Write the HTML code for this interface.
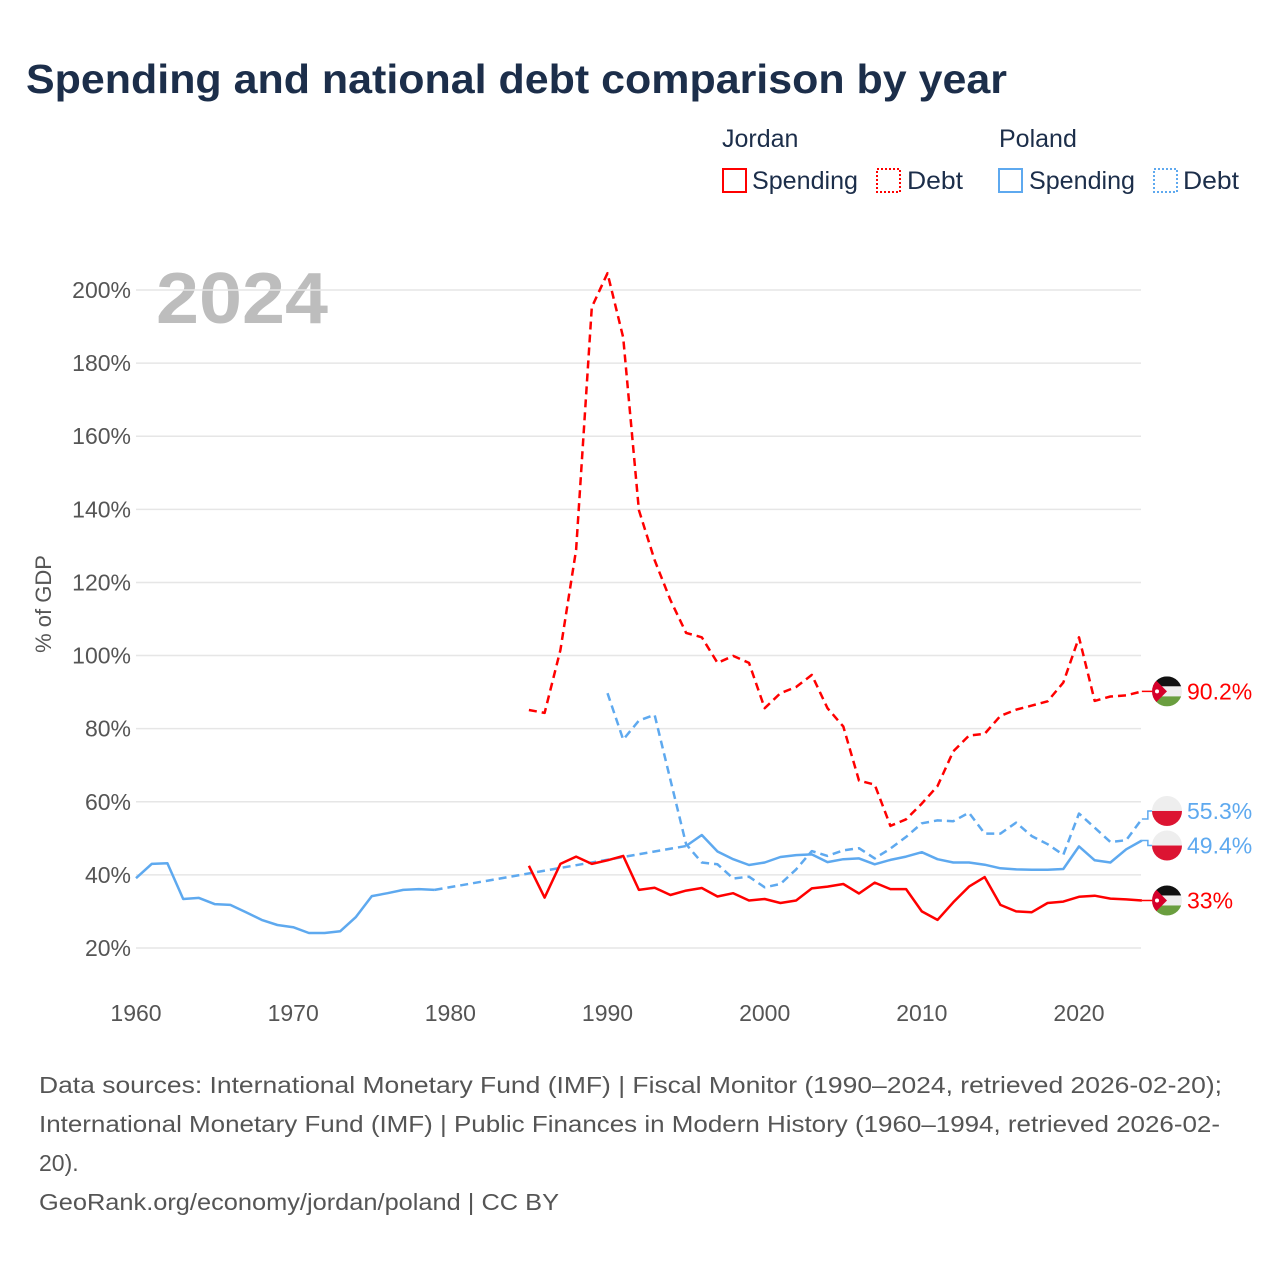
<!DOCTYPE html>
<html><head><meta charset="utf-8">
<style>
body{margin:0;background:#fff;font-family:"Liberation Sans",sans-serif;}
#wrap{position:relative;width:1280px;height:1280px;overflow:hidden;}
</style></head>
<body>
<div id="wrap">
<svg id="chart" width="1280" height="1280" xmlns="http://www.w3.org/2000/svg">
<text x="26" y="93" font-size="41" font-weight="bold" fill="#1c2e4a" textLength="981" lengthAdjust="spacingAndGlyphs">Spending and national debt comparison by year</text>
<g font-size="25" fill="#1c2e4a">
<text x="722" y="147">Jordan</text>
<text x="999" y="147">Poland</text>
<g><rect x="723" y="169" width="23" height="23" fill="none" stroke="#ff0000" stroke-width="2"/><text x="752" y="189" textLength="106" lengthAdjust="spacingAndGlyphs">Spending</text></g>
<g><rect x="877" y="169" width="23" height="23" fill="none" stroke="#ff0000" stroke-width="2" stroke-dasharray="2,2"/><text x="907" y="189" textLength="56" lengthAdjust="spacingAndGlyphs">Debt</text></g>
<g><rect x="999" y="169" width="23" height="23" fill="none" stroke="#5ea9ef" stroke-width="2"/><text x="1029" y="189" textLength="106" lengthAdjust="spacingAndGlyphs">Spending</text></g>
<g><rect x="1154" y="169" width="23" height="23" fill="none" stroke="#5ea9ef" stroke-width="2" stroke-dasharray="2,2"/><text x="1183" y="189" textLength="56" lengthAdjust="spacingAndGlyphs">Debt</text></g>
</g>
<text x="156" y="323" font-size="72" font-weight="bold" fill="#bdbdbd" textLength="172" lengthAdjust="spacingAndGlyphs">2024</text>
<text transform="translate(51,604) rotate(-90)" text-anchor="middle" font-size="22" fill="#555">% of GDP</text>
<g id="grid"></g><g id="series"></g><g id="ends"></g>
<g font-size="23" fill="#555">
<text x="39" y="1093" textLength="1183" lengthAdjust="spacingAndGlyphs">Data sources: International Monetary Fund (IMF) | Fiscal Monitor (1990–2024, retrieved 2026-02-20);</text>
<text x="39" y="1132" textLength="1181" lengthAdjust="spacingAndGlyphs">International Monetary Fund (IMF) | Public Finances in Modern History (1960–1994, retrieved 2026-02-</text>
<text x="39" y="1171">20).</text>
<text x="39" y="1210" textLength="520" lengthAdjust="spacingAndGlyphs">GeoRank.org/economy/jordan/poland | CC BY</text>
</g>
</svg>
</div>
<script>
const yTicks=[20,40,60,80,100,120,140,160,180,200];
const xTicks=[1960,1970,1980,1990,2000,2010,2020];
const plSpendYears=[1960,1961,1962,1963,1964,1965,1966,1967,1968,1969,1970,1971,1972,1973,1974,1975,1976,1977,1978,1979,1995,1996,1997,1998,1999,2000,2001,2002,2003,2004,2005,2006,2007,2008,2009,2010,2011,2012,2013,2014,2015,2016,2017,2018,2019,2020,2021,2022,2023,2024];
const plSpend=[39.1,43,43.2,33.4,33.7,32,31.8,29.8,27.7,26.3,25.7,24.1,24.1,24.6,28.5,34.2,35,35.9,36.1,35.9,47.9,50.9,46.4,44.3,42.7,43.4,44.9,45.4,45.6,43.5,44.3,44.5,42.9,44.1,45,46.2,44.3,43.4,43.4,42.8,41.8,41.5,41.4,41.4,41.6,47.8,44,43.4,47,49.4];
const plDebtYears=[1990,1991,1992,1993,1994,1995,1996,1997,1998,1999,2000,2001,2002,2003,2004,2005,2006,2007,2008,2009,2010,2011,2012,2013,2014,2015,2016,2017,2018,2019,2020,2021,2022,2023,2024];
const plDebt=[89.7,77,82.2,83.8,66,48.4,43.4,42.9,39,39.5,36.6,37.5,41.5,46.5,45.2,46.7,47.3,44.5,47.2,50.4,54.1,54.9,54.7,57,51.3,51.3,54.3,50.6,48.4,45.5,56.8,52.9,49,49.5,55.3];
const joYears=[1985,1986,1987,1988,1989,1990,1991,1992,1993,1994,1995,1996,1997,1998,1999,2000,2001,2002,2003,2004,2005,2006,2007,2008,2009,2010,2011,2012,2013,2014,2015,2016,2017,2018,2019,2020,2021,2022,2023,2024];
const joSpend=[42.5,33.8,43,45,43,44,45.2,35.9,36.5,34.5,35.7,36.4,34.1,35,33,33.4,32.3,33,36.3,36.8,37.5,34.9,37.9,36.1,36.1,30,27.7,32.5,36.8,39.4,31.8,30,29.8,32.3,32.7,34,34.3,33.5,33.3,33];
const joDebt=[85.1,84.3,101.5,128.9,195.3,204.6,187,139.8,126.1,115.2,106.2,105,98,99.9,98,85.6,89.7,91.4,94.7,85.6,80.6,65.8,64.7,53.4,55.2,59.5,64.3,73.8,78.1,78.6,83.5,85.2,86.3,87.5,92.6,105,87.6,88.8,89.1,90.2];
const endLabels=["90.2%","55.3%","49.4%","33%"];

const NS="http://www.w3.org/2000/svg";
const X=y=>136+(y-1960)*(1079-136)/60;
const Y=v=>948-(v-20)*(948-290)/180;
function mk(tag,attrs,parent){const e=document.createElementNS(NS,tag);for(const k in attrs)e.setAttribute(k,attrs[k]);parent.appendChild(e);return e;}
const grid=document.getElementById('grid'),ser=document.getElementById('series'),ends=document.getElementById('ends');
yTicks.forEach(t=>{
  const l=mk('line',{x1:136,x2:1141,y1:Y(t),y2:Y(t),stroke:'#e6e6e6','stroke-width':1.5},grid);
  
  
  const tx=mk('text',{x:131,y:Y(t)+8,'text-anchor':'end','font-size':23,fill:'#555'},grid);
  tx.textContent=t+'%';
  
  
});
xTicks.forEach(t=>{
  const tx=mk('text',{x:X(t),y:1021,'text-anchor':'middle','font-size':23,fill:'#555'},grid);
  tx.textContent=t;
  
  
});
function pts(ys,vs){return ys.map((y,i)=>X(y).toFixed(1)+','+Y(vs[i]).toFixed(1)).join(' ');}
function line(ys,vs,color,dash,name){
  const p=mk('polyline',{points:pts(ys,vs),fill:'none',stroke:color,'stroke-width':2.5,'stroke-linejoin':'round'},ser);
  if(dash)p.setAttribute('stroke-dasharray','8,5');
  
  
}
const gapI=plSpendYears.indexOf(1979);
line(plSpendYears.slice(0,gapI+1),plSpend.slice(0,gapI+1),'#5ea9ef',false,'poland-spending-line-early');
line(plSpendYears.slice(gapI,gapI+2),plSpend.slice(gapI,gapI+2),'#5ea9ef',true,'poland-spending-gap');
line(plSpendYears.slice(gapI+1),plSpend.slice(gapI+1),'#5ea9ef',false,'poland-spending-line');
line(plDebtYears,plDebt,'#5ea9ef',true,'poland-debt-line');
line(joYears,joSpend,'#ff0000',false,'jordan-spending-line');
line(joYears,joDebt,'#ff0000',true,'jordan-debt-line');

const lastJD=joDebt[joDebt.length-1],lastPD=plDebt[plDebt.length-1],lastPS=plSpend[plSpend.length-1],lastJS=joSpend[joSpend.length-1];
const endItems=[
 {v:lastJD,ly:Y(lastJD),c:'#ff0000',f:'jo',lab:endLabels[0],n:'jordan-debt'},
 {v:lastPD,ly:Y(lastPD)-8,c:'#5ea9ef',f:'pl',lab:endLabels[1],n:'poland-debt'},
 {v:lastPS,ly:Y(lastPS)+5,c:'#5ea9ef',f:'pl',lab:endLabels[2],n:'poland-spending'},
 {v:lastJS,ly:Y(lastJS),c:'#ff0000',f:'jo',lab:endLabels[3],n:'jordan-spending'}];
endItems.forEach(e=>{
  const g=mk('g',{},ends);
  
  
  const x0=X(2024),yv=Y(e.v);
  mk('polyline',{points:`${x0},${yv} ${x0+6},${yv} ${x0+6},${e.ly} ${1152},${e.ly}`,fill:'none',stroke:e.c,'stroke-width':1.5},g);
  const cx=1167,cy=e.ly,r=15;
  const id='clip'+e.n;
  const cp=mk('clipPath',{id:id},g);mk('circle',{cx:cx,cy:cy,r:r},cp);
  const fg=mk('g',{'clip-path':`url(#${id})`},g);
  if(e.f==='jo'){
    mk('rect',{x:cx-r,y:cy-r,width:2*r,height:10,fill:'#111'},fg);
    mk('rect',{x:cx-r,y:cy-5,width:2*r,height:10,fill:'#eee'},fg);
    mk('rect',{x:cx-r,y:cy+5,width:2*r,height:10,fill:'#6a9e3f'},fg);
    mk('polygon',{points:`${cx-r},${cy-r} ${cx},${cy} ${cx-r},${cy+r}`,fill:'#d6002a'},fg);
    mk('circle',{cx:cx-10,cy:cy,r:2,fill:'#fff'},fg);
  }else{
    mk('rect',{x:cx-r,y:cy-r,width:2*r,height:r,fill:'#eee'},fg);
    mk('rect',{x:cx-r,y:cy,width:2*r,height:r,fill:'#dc1432'},fg);
  }
  const t=mk('text',{x:1187,y:e.ly+8,'font-size':23,fill:e.c},g);
  t.textContent=e.lab;
});
</script>
</body></html>
